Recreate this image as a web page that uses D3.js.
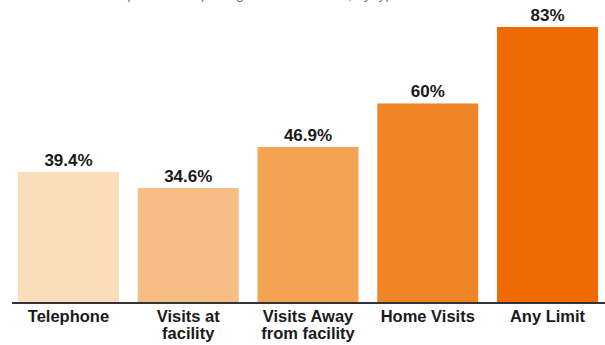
<!DOCTYPE html>
<html>
<head>
<meta charset="utf-8">
<script src="https://cdn.jsdelivr.net/npm/d3@7"></script>
<style>
    html, body { margin: 0; padding: 0; background: #fff; }
    svg { display: block; font-family: "Liberation Sans", Arial, Helvetica, sans-serif; }
</style>
</head>
<body>
<svg id="chart" width="605" height="345"></svg>
<script>
// Chart data
const categories = ['Telephone', 'Visits at facility', 'Visits Away from facility', 'Home Visits', 'Any Limit'];
const labelLines = [['Telephone'], ['Visits at', 'facility'], ['Visits Away', 'from facility'], ['Home Visits'], ['Any Limit']];
const values = [39.4, 34.6, 46.9, 60, 83];
const valueLabels = ['39.4%', '34.6%', '46.9%', '60%', '83%'];
const barColors = ['#fbdcbb', '#f6be85', '#f3a352', '#f08528', '#ef6a00'];
const titleText = 'Percent of respondents reporting limits on contact, by type of contact';

(function() {
    'use strict';

    const svg = d3.select('#chart');
    const baseY = 303;

    const x = d3.scaleBand()
        .domain(categories)
        .range([18, 598])
        .paddingInner(0.157)
        .paddingOuter(0);

    const y = d3.scaleLinear()
        .domain([0, 83])
        .range([baseY, 27]);

    const color = d3.scaleOrdinal().domain(categories).range(barColors);

    // Title - sits above the visible area, only its descenders peek in
    svg.append('text')
        .attr('x', 40)
        .attr('y', -1)
        .style('font-size', '14px')
        .style('fill', '#777')
        .text(titleText);

    // Bars
    svg.selectAll('.bar')
        .data(categories)
        .enter()
        .append('rect')
        .attr('class', 'bar')
        .attr('x', d => x(d))
        .attr('width', x.bandwidth())
        .attr('y', (d, i) => y(values[i]))
        .attr('height', (d, i) => y(0) - y(values[i]))
        .attr('fill', d => color(d));

    // Value labels
    svg.selectAll('.value-label')
        .data(categories)
        .enter()
        .append('text')
        .attr('class', 'value-label')
        .attr('x', d => x(d) + x.bandwidth() / 2)
        .attr('y', (d, i) => y(values[i]) - 6)
        .attr('text-anchor', 'middle')
        .style('font-size', '17px')
        .style('font-weight', 'bold')
        .style('fill', '#1a1a1a')
        .text((d, i) => valueLabels[i]);

    // Baseline
    svg.append('line')
        .attr('x1', 12)
        .attr('x2', 605)
        .attr('y1', baseY)
        .attr('y2', baseY)
        .style('stroke', '#333')
        .style('stroke-width', 2);

    // Category labels
    const catText = svg.selectAll('.cat-label')
        .data(categories)
        .enter()
        .append('text')
        .attr('class', 'cat-label')
        .attr('x', d => x(d) + x.bandwidth() / 2)
        .attr('y', 322)
        .attr('text-anchor', 'middle')
        .style('font-size', '16.5px')
        .style('font-weight', 'bold')
        .style('fill', '#1a1a1a');

    catText.each(function(d, i) {
        const t = d3.select(this);
        labelLines[i].forEach((line, j) => {
            t.append('tspan')
                .attr('x', x(d) + x.bandwidth() / 2)
                .attr('dy', j === 0 ? 0 : 17)
                .text(line);
        });
    });
})();
</script>
</body>
</html>
